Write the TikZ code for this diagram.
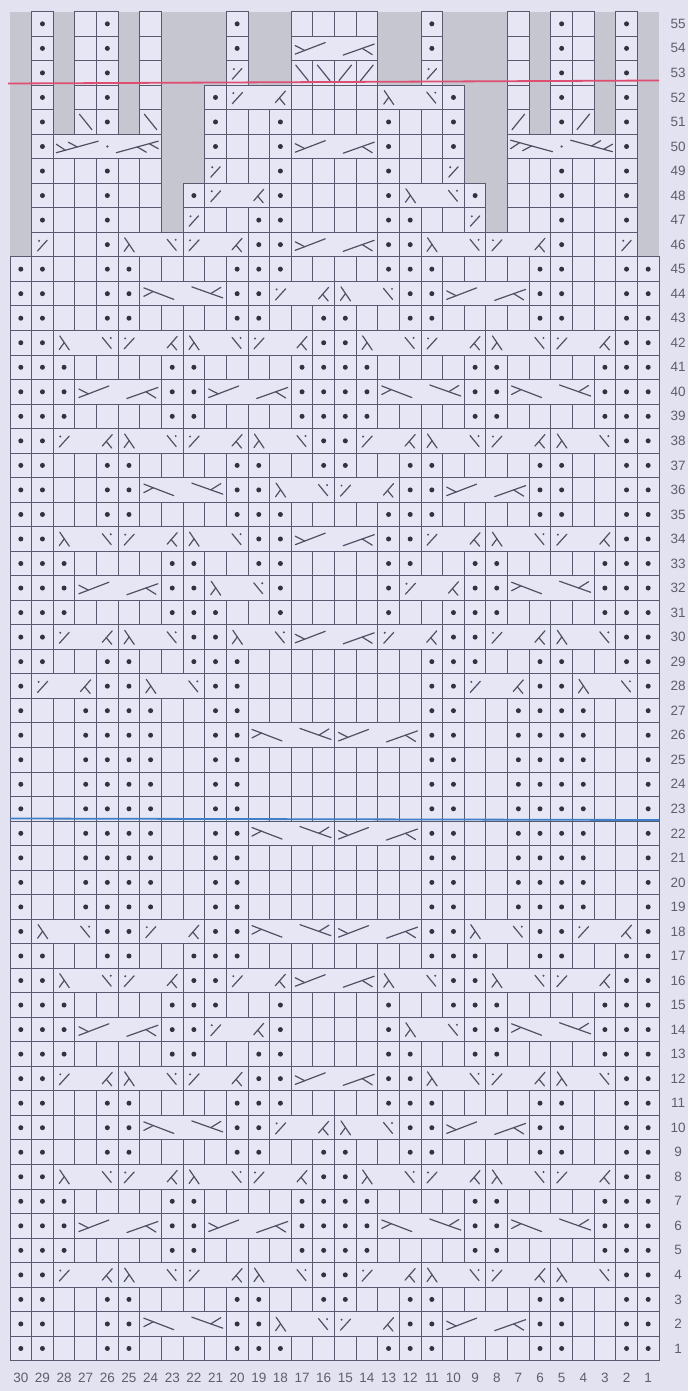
\documentclass[tikz,border=0pt]{standalone}
\usepackage{fontspec}
\setmainfont{Liberation Sans}
\definecolor{bgc}{RGB}{226,226,240}
\definecolor{cellc}{RGB}{230,230,244}
\definecolor{greyc}{RGB}{198,198,208}
\definecolor{gridc}{RGB}{88,90,112}
\definecolor{inkc}{RGB}{50,50,65}
\definecolor{glyc}{RGB}{80,80,100}
\definecolor{numc}{RGB}{95,95,108}
\definecolor{redl}{RGB}{222,78,112}
\definecolor{bluel}{RGB}{64,128,200}
\tikzset{
  cellst/.style={draw=gridc,fill=cellc,line width=0.9pt},
  glyph/.style={draw=glyc,line width=1.2pt,line cap=round},
  numst/.style={text=numc,font=\fontsize{13.5}{14}\selectfont,inner sep=0pt},
}
\newcount\colc
\def\CW{21.633}\def\RH{24.53}\def\XR{659}\def\YB{1360.7}
\newcommand\spanxy[1]{%
  \pgfmathsetmacro\xa{\XR-\the\colc*\CW}%
  \pgfmathsetmacro\xb{\XR-(\the\colc-#1)*\CW}%
  \pgfmathsetmacro\ya{\YB-\currow*\RH}%
  \pgfmathsetmacro\yb{\YB-(\currow-1)*\RH}%
}
\newcommand\cellbox[1]{\spanxy{#1}\draw[cellst] (\xa,\ya) rectangle (\xb,\yb);}
\newcommand\adv[1]{\global\advance\colc by -#1\relax}
\newcommand\deftok[2]{\expandafter\def\csname tk@#1\endcsname{#2}}
\deftok{K}{\cellbox{1}\adv{1}}
\deftok{G}{\adv{1}}
\deftok{P}{\cellbox{1}\begin{scope}[shift={(\xa,\ya)}]\fill[inkc] (10.8,12.3) circle (2.5pt);\end{scope}\adv{1}}
\deftok{D}{\cellbox{1}\begin{scope}[shift={(\xa,\ya)}]\draw[glyph] (6,18.5)--(15.5,8);\fill[glyc] (7.5,8.5) circle (1.1pt);\end{scope}\adv{1}}
\deftok{L}{\cellbox{1}\begin{scope}[shift={(\xa,\ya)}]\draw[glyph] (4.5,4.5)--(17,20);\end{scope}\adv{1}}
\deftok{R}{\cellbox{1}\begin{scope}[shift={(\xa,\ya)}]\draw[glyph] (4.5,20)--(17,4.5);\end{scope}\adv{1}}
\deftok{3d}{\cellbox{3}\begin{scope}[shift={(\xa,\ya)}]
  \draw[glyph] (6.5,5.5)--(16,19.5); \draw[glyph] (11,12.1)--(6,19);
  \draw[glyph] (49,7)--(58,18); \fill[glyc] (57.5,7.5) circle (1.1pt);
  \end{scope}\adv{3}}
\deftok{3u}{\cellbox{3}\begin{scope}[shift={(\xa,\ya)}]
  \draw[glyph] (6,18.5)--(16,7.5); \fill[glyc] (7,8) circle (1.1pt);
  \draw[glyph] (49,17.5)--(59,6); \draw[glyph] (53,12.9)--(58.5,19.5);
  \end{scope}\adv{3}}
\deftok{4u}{\cellbox{4}\begin{scope}[shift={(\xa,\ya)}]
  \draw[glyph] (4,18)--(34,6.5); \draw[glyph] (4,9.5)--(13.5,14.4);
  \draw[glyph] (52,19)--(83,8); \draw[glyph] (71,12.3)--(81,18.5);
  \end{scope}\adv{4}}
\deftok{4d}{\cellbox{4}\begin{scope}[shift={(\xa,\ya)}]
  \draw[glyph] (4,6.5)--(34,18); \draw[glyph] (4,15)--(13.5,10.1);
  \draw[glyph] (52,5.5)--(83,16.5); \draw[glyph] (71,12.2)--(81,6);
  \end{scope}\adv{4}}
\deftok{5u}{\cellbox{5}\begin{scope}[shift={(\xa,\ya)}]
  \draw[glyph] (3,18.5)--(45,7); \draw[glyph] (3,10)--(12,16); \draw[glyph] (15,8)--(24,12.75);
  \fill[glyc] (54.1,12.3) circle (1.3pt);
  \draw[glyph] (63,18.5)--(105,7); \draw[glyph] (84,12.75)--(93,18); \draw[glyph] (96,9.5)--(105,14.5);
  \end{scope}\adv{5}}
\deftok{5d}{\cellbox{5}\begin{scope}[shift={(\xa,\ya)}]
  \draw[glyph] (3,6)--(45,17.5); \draw[glyph] (3,14.5)--(12,8.5); \draw[glyph] (15,16.5)--(24,11.8);
  \fill[glyc] (54.1,12.3) circle (1.3pt);
  \draw[glyph] (63,6)--(105,17.5); \draw[glyph] (84,11.8)--(93,6.5); \draw[glyph] (96,15.1)--(105,10);
  \end{scope}\adv{5}}
\newcommand\crow[2]{\def\currow{#1}\global\colc=30\relax\edef\lst{#2}%
  \foreach \tk in \lst {\csname tk@\tk\endcsname}}
\def\rA{P,K,K,P,P,P,P,K,K,P,P,K,K,K,K,K,K,K,K,P,P,K,K,P,P,P,P,K,K,P}
\def\rB{P,K,K,P,P,P,P,K,K,P,P,4d,4u,P,P,K,K,P,P,P,P,K,K,P}
\def\rC{P,P,K,K,P,P,K,K,K,K,P,P,P,K,K,K,K,P,P,P,K,K,K,K,P,P,K,K,P,P}
\def\rD{P,P,K,K,P,P,4d,P,P,3u,3d,P,P,4u,P,P,K,K,P,P}
\def\rE{P,P,K,K,P,P,K,K,K,K,P,P,K,K,P,P,K,K,P,P,K,K,K,K,P,P,K,K,P,P}
\def\rF{P,P,3d,3u,3d,3u,P,P,3d,3u,3d,3u,P,P}
\def\rG{P,P,P,K,K,K,K,P,P,K,K,K,K,P,P,P,P,K,K,K,K,P,P,K,K,K,K,P,P,P}
\def\rH{P,P,P,4u,P,P,4u,P,P,P,P,4d,P,P,4d,P,P,P}
\def\rI{P,P,3u,3d,3u,3d,P,P,3u,3d,3u,3d,P,P}
\def\rJ{P,P,K,K,P,P,4d,P,P,3d,3u,P,P,4u,P,P,K,K,P,P}
\def\rK{P,P,P,K,K,K,K,P,P,K,K,P,P,K,K,K,K,P,P,K,K,P,P,K,K,K,K,P,P,P}
\def\rL{P,P,P,K,K,K,K,P,P,P,K,K,P,K,K,K,K,P,K,K,P,P,P,K,K,K,K,P,P,P}
\def\rM{P,P,K,K,P,P,K,K,P,P,P,K,K,K,K,K,K,K,K,P,P,P,K,K,P,P,K,K,P,P}
\begin{document}
\begin{tikzpicture}[x=1pt,y=-1pt]
\useasboundingbox (0,0) rectangle (688,1391);
\fill[bgc] (0,0) rectangle (688,1391);
% no-stitch area of rows 46-55
\fill[greyc] (10,11.7) rectangle (659,256.85);
\crow{55}{G,P,G,K,P,G,K,G,G,G,P,G,G,K,K,K,K,G,G,P,G,G,G,K,G,P,K,G,P,G}
\crow{54}{G,P,G,K,P,G,K,G,G,G,P,G,G,4u,G,G,P,G,G,G,K,G,P,K,G,P,G}
\crow{53}{G,P,G,K,P,G,K,G,G,G,D,G,G,L,L,R,R,G,G,D,G,G,G,K,G,P,K,G,P,G}
\crow{52}{G,P,G,K,P,G,K,G,G,P,3u,K,K,K,K,3d,P,G,G,K,G,P,K,G,P,G}
\crow{51}{G,P,G,L,P,G,L,G,G,P,K,K,P,K,K,K,K,P,K,K,P,G,G,R,G,P,R,G,P,G}
\crow{50}{G,P,5u,G,G,P,K,K,P,4u,P,K,K,P,G,G,5d,P,G}
\crow{49}{G,P,K,K,P,K,K,G,G,D,K,K,P,K,K,K,K,P,K,K,D,G,G,K,K,P,K,K,P,G}
\crow{48}{G,P,K,K,P,K,K,G,P,3u,P,K,K,K,K,P,3d,P,G,K,K,P,K,K,P,G}
\crow{47}{G,P,K,K,P,K,K,G,D,K,K,P,P,K,K,K,K,P,P,K,K,D,G,K,K,P,K,K,P,G}
\crow{46}{G,D,K,K,P,3d,3u,P,P,4u,P,P,3d,3u,P,K,K,D,G}
\crow{45}{\rC}
\crow{44}{\rD}
\crow{43}{\rE}
\crow{42}{\rF}
\crow{41}{\rG}
\crow{40}{\rH}
\crow{39}{\rG}
\crow{38}{\rI}
\crow{37}{\rE}
\crow{36}{\rJ}
\crow{35}{\rC}
\crow{34}{P,P,3d,3u,3d,P,P,4u,P,P,3u,3d,3u,P,P}
\crow{33}{\rK}
\crow{32}{P,P,P,4u,P,P,3d,P,K,K,K,K,P,3u,P,P,4d,P,P,P}
\crow{31}{\rL}
\crow{30}{P,P,3u,3d,P,P,3d,4u,3u,P,P,3u,3d,P,P}
\crow{29}{\rM}
\crow{28}{P,3u,P,P,3d,P,P,K,K,K,K,K,K,K,K,P,P,3u,P,P,3d,P}
\crow{27}{\rA}
\crow{26}{\rB}
\crow{25}{\rA}
\crow{24}{\rA}
\crow{23}{\rA}
\crow{22}{\rB}
\crow{21}{\rA}
\crow{20}{\rA}
\crow{19}{\rA}
\crow{18}{P,3d,P,P,3u,P,P,4d,4u,P,P,3d,P,P,3u,P}
\crow{17}{\rM}
\crow{16}{P,P,3d,3u,P,P,3u,4u,3d,P,P,3d,3u,P,P}
\crow{15}{\rL}
\crow{14}{P,P,P,4u,P,P,3u,P,K,K,K,K,P,3d,P,P,4d,P,P,P}
\crow{13}{\rK}
\crow{12}{P,P,3u,3d,3u,P,P,4u,P,P,3d,3u,3d,P,P}
\crow{11}{\rC}
\crow{10}{\rD}
\crow{9}{\rE}
\crow{8}{\rF}
\crow{7}{\rG}
\crow{6}{\rH}
\crow{5}{\rG}
\crow{4}{\rI}
\crow{3}{\rE}
\crow{2}{\rJ}
\crow{1}{\rC}
% guide lines
\coordinate (redL) at (8,83.5);
\coordinate (redR) at (659,80.5);
\coordinate (blueL) at (10,818.5);
\coordinate (blueR) at (659,820);
\draw[redl,line width=1.8pt] (redL) -- (redR);
\draw[bluel,line width=1.8pt] (blueL) -- (blueR);
% numbers
\foreach \r in {1,...,55} \node[numst] (r\r) at (678,{1360.7-(\r-0.5)*24.53}) {\r};
\foreach \c in {1,...,30} \node[numst] (c\c) at ({659-(\c-0.5)*21.633},1377.5) {\c};
\end{tikzpicture}
\end{document}
